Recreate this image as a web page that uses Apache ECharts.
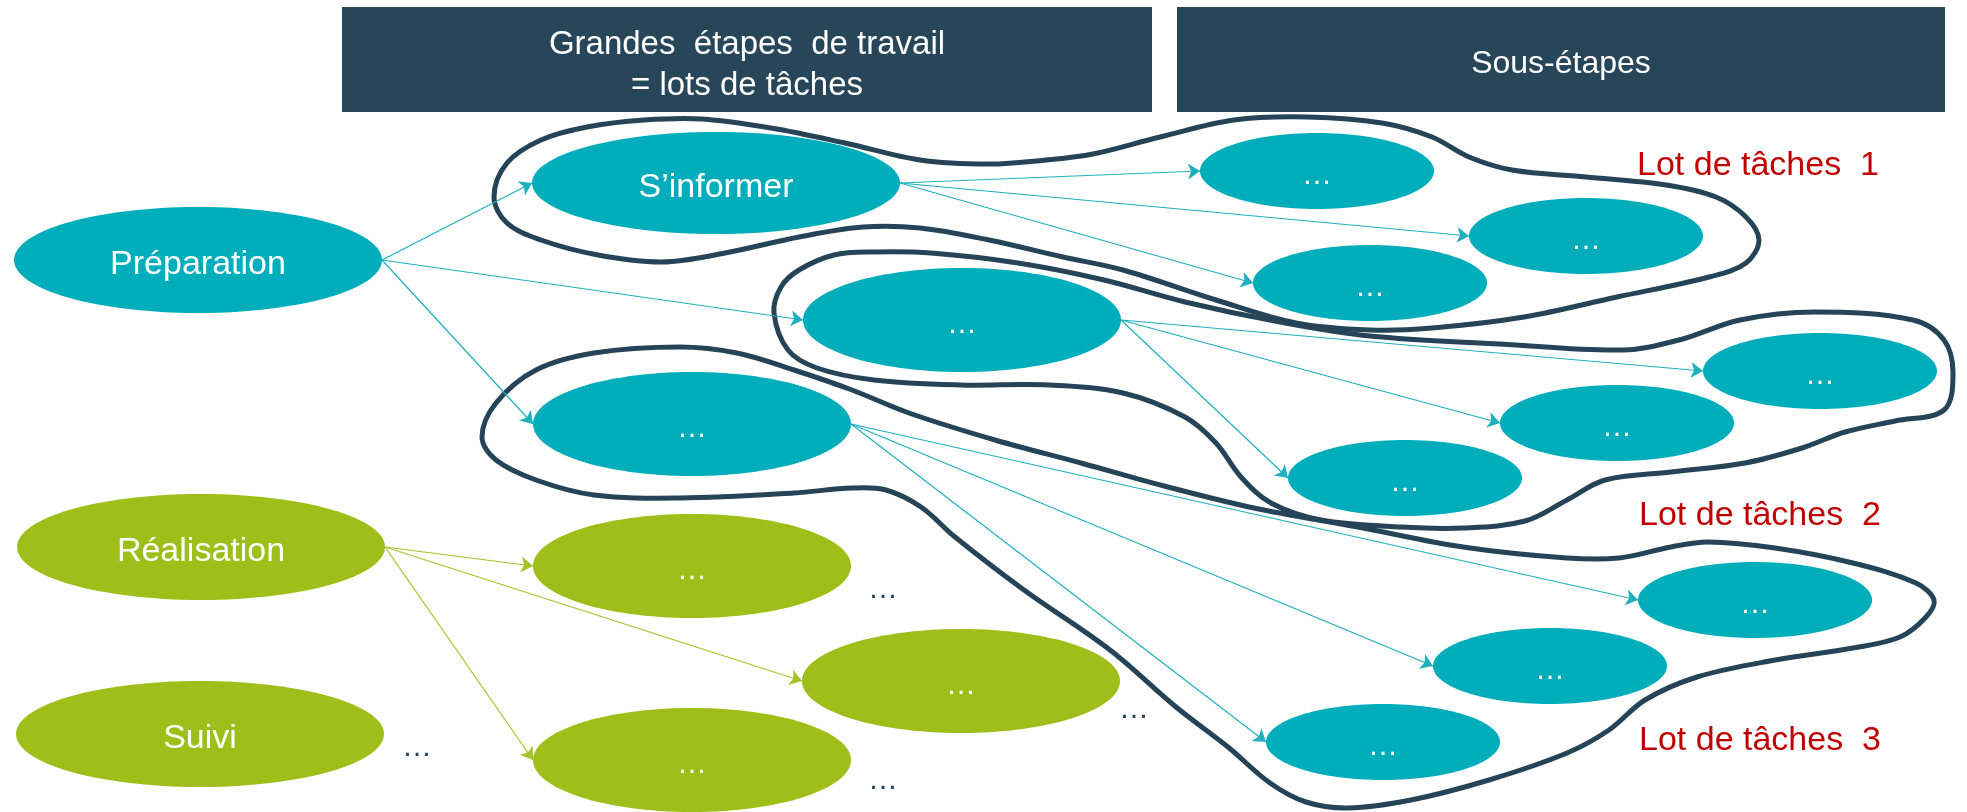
<!DOCTYPE html>
<html><head><meta charset="utf-8">
<script src="https://cdn.jsdelivr.net/npm/echarts@6/dist/echarts.min.js"></script>
<style>html,body{margin:0;padding:0;background:#fff;overflow:hidden}#c{width:1967px;height:812px}</style>
</head><body><div id="c"></div>
<script>
// ---- data ----
const headerTexts = ['Grandes  étapes  de travail\n= lots de tâches', 'Sous-étapes'];
const nodeIds    = ['prep','real','suivi','info','step2','step3','g1','g2','g3','s1a','s1b','s1c','s2a','s2b','s2c','s3a','s3b','s3c'];
const nodeLabels = ['Préparation','Réalisation','Suivi','S’informer','…','…','…','…','…','…','…','…','…','…','…','…','…','…'];
const nodeX      = [198, 201, 200, 716, 962, 692, 692, 961, 692, 1317, 1586, 1370, 1820, 1617, 1405, 1755, 1550, 1383];
const nodeY      = [260, 547, 734, 183, 320, 424, 566, 681, 760,  171,  236,  283,  371,  423,  478,  600,  666,  742];
const nodeLevel  = ['root','root','root','wide','step','step','step','step','step','sub','sub','sub','sub','sub','sub','sub','sub','sub'];
const nodeGroup  = ['prep','real','real','prep','prep','prep','real','real','real','prep','prep','prep','prep','prep','prep','prep','prep','prep'];
const edges = [
  ['prep','info'],['prep','step2'],['prep','step3'],
  ['info','s1a'],['info','s1b'],['info','s1c'],
  ['step2','s2a'],['step2','s2b'],['step2','s2c'],
  ['step3','s3a'],['step3','s3b'],['step3','s3c'],
  ['real','g1'],['real','g2'],['real','g3']
];
const lot1Outline = [[494,197],[507,163],[541,140],[587,127],[644,120],[702,119],[771,128],[845,143],[920,160],[989,164],[1046,160],[1093,154],[1160,137],[1234,120],[1308,117],[1382,123],[1432,137],[1469,157],[1512,170],[1586,177],[1666,185],[1716,197],[1746,217],[1759,240],[1746,263],[1709,277],[1617,297],[1524,317],[1432,328],[1370,330],[1296,323],[1216,300],[1123,270],[1063,257],[989,240],[920,228],[863,227],[799,237],[725,253],[662,262],[598,255],[541,240],[507,223]];
const lot2Outline = [[774,313],[781,287],[799,270],[834,255],[874,252],[931,253],[1018,263],[1104,280],[1185,302],[1280,322],[1370,336],[1500,344],[1623,350],[1679,340],[1740,320],[1814,312],[1913,320],[1944,340],[1953,373],[1944,410],[1895,421],[1845,432],[1802,448],[1745,463],[1671,472],[1605,480],[1567,500],[1525,521],[1463,528],[1401,527],[1321,520],[1271,503],[1241,477],[1216,443],[1185,417],[1123,393],[1049,385],[960,385],[874,380],[817,368],[788,350]];
const lot3Outline = [[482,437],[496,403],[536,370],[594,353],[680,347],[737,353],[794,370],[852,390],[909,413],[995,440],[1081,463],[1168,487],[1254,508],[1358,527],[1463,547],[1567,558],[1619,558],[1671,547],[1708,542],[1775,548],[1853,563],[1916,583],[1934,600],[1926,617],[1900,637],[1853,648],[1775,660],[1697,677],[1645,700],[1609,730],[1567,753],[1489,780],[1411,800],[1348,808],[1306,802],[1270,783],[1228,747],[1176,707],[1110,650],[1024,590],[955,537],[921,507],[886,490],[852,488],[794,493],[680,498],[594,495],[536,480],[496,460]];
const outlines = [lot1Outline, lot2Outline, lot3Outline];
const lotLabels = ['Lot de tâches  1','Lot de tâches  2','Lot de tâches  3'];
const lotLabelX = [1758, 1760, 1760];
const lotLabelY = [161, 511, 736];
const moreX = [883, 1134, 417, 883];
const moreY = [587, 707, 745, 778];

// ---- styles ----
const SIZES = { root:{rx:184, ry:53}, wide:{rx:184, ry:51}, step:{rx:159, ry:52}, sub:{rx:117, ry:38} };
const FILL = { prep:'#00adbb', real:'#9fbe19' };
const EDGE = { prep:'#1fb0be', real:'#a6c22b' };
const DARK = '#284659';
const FONT = '"Liberation Sans", Arial, sans-serif';
const TEXT_DY = 5;

const idx = id => nodeIds.indexOf(id);
const edgeData = edges.map(([a,b]) => {
  const i = idx(a), j = idx(b);
  return {
    coords: [[nodeX[i] + SIZES[nodeLevel[i]].rx, nodeY[i]], [nodeX[j] - SIZES[nodeLevel[j]].rx, nodeY[j]]],
    lineStyle: { color: EDGE[nodeGroup[i]] }
  };
});

const chart = echarts.init(document.getElementById('c'), null, {renderer:'canvas'});
chart.setOption({
  animation: false,
  backgroundColor: '#ffffff',
  grid: {left:0, right:0, top:0, bottom:0},
  xAxis: {type:'value', min:0, max:1967, show:false},
  yAxis: {type:'value', min:0, max:812, inverse:true, show:false},
  graphic: [
    {type:'rect', shape:{x:342, y:7, width:810, height:105}, style:{fill:DARK}, z:1},
    {type:'rect', shape:{x:1177, y:7, width:768, height:105}, style:{fill:DARK}, z:1},
    {type:'text', x:747, y:60 + TEXT_DY, z:2, style:{text:headerTexts[0], fill:'#fff', font:'33px ' + FONT, lineHeight:41, align:'center', verticalAlign:'middle'}},
    {type:'text', x:1561, y:59 + TEXT_DY, z:2, style:{text:headerTexts[1], fill:'#fff', font:'32px ' + FONT, align:'center', verticalAlign:'middle'}}
  ],
  series: [
    {
      type:'custom', z:1, silent:true,
      data: outlines.map((o,i)=>[i, 0]),
      renderItem: (p, api) => ({
        type:'polygon',
        shape:{ points: outlines[p.dataIndex].map(pt => api.coord(pt)), smooth:0.35 },
        style:{ fill:'none', stroke:'#264458', lineWidth:5 }
      })
    },
    {
      type:'lines', coordinateSystem:'cartesian2d', z:2, silent:true,
      symbol:['none','arrow'], symbolSize:12,
      lineStyle:{ width:1.2, opacity:1, curveness:0 },
      data: edgeData
    },
    {
      type:'custom', z:3, silent:true,
      data: nodeX.map((x,i)=>[x, nodeY[i]]),
      renderItem: (p, api) => {
        const i = p.dataIndex;
        const c = api.coord([api.value(0), api.value(1)]);
        const sz = SIZES[nodeLevel[i]];
        const s = api.size([sz.rx, sz.ry]);
        const named = nodeLabels[i] !== '…';
        return {type:'group', children:[
          {type:'ellipse', shape:{cx:c[0], cy:c[1], rx:Math.abs(s[0]), ry:Math.abs(s[1])}, style:{fill:FILL[nodeGroup[i]]}},
          {type:'text', style:{text:nodeLabels[i], x:c[0], y:c[1] + TEXT_DY, fill:'#fff',
            font:(named ? '34px ' : '30px ') + FONT, align:'center', verticalAlign:'middle'}}
        ]};
      }
    },
    {
      type:'custom', z:4, silent:true,
      data: lotLabels.map((t,i)=>[lotLabelX[i], lotLabelY[i]]),
      renderItem: (p, api) => {
        const c = api.coord([api.value(0), api.value(1)]);
        return {type:'text', style:{text:lotLabels[p.dataIndex], x:c[0], y:c[1] + TEXT_DY, fill:'#c00000',
          font:'34px ' + FONT, align:'center', verticalAlign:'middle'}};
      }
    },
    {
      type:'custom', z:4, silent:true,
      data: moreX.map((x,i)=>[x, moreY[i]]),
      renderItem: (p, api) => {
        const c = api.coord([api.value(0), api.value(1)]);
        return {type:'text', style:{text:'…', x:c[0], y:c[1] + 3, fill:DARK,
          font:'30px ' + FONT, align:'center', verticalAlign:'middle'}};
      }
    }
  ]
});
</script>
</body></html>
